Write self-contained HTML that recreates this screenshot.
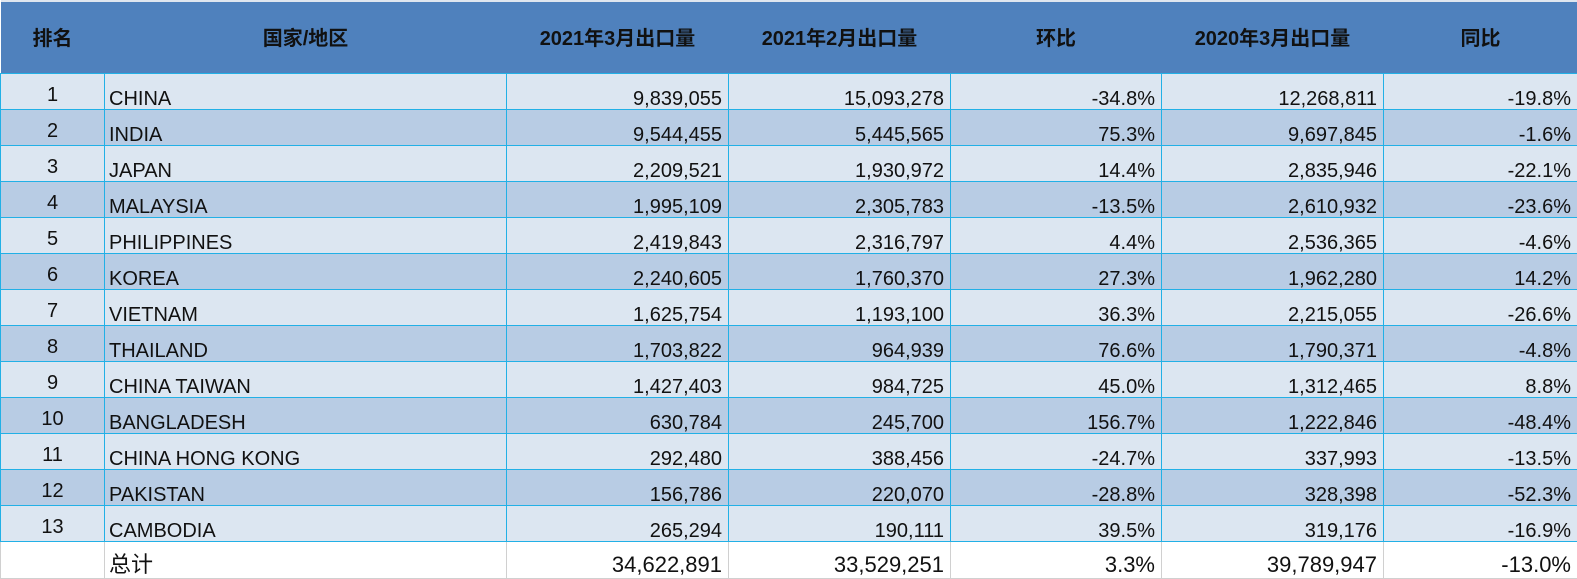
<!DOCTYPE html>
<html><head><meta charset="utf-8"><style>
body{margin:0;width:1577px;height:577px;overflow:hidden;background:#fff;font-family:"Liberation Sans","Noto Sans CJK SC",sans-serif;}
table{border-collapse:collapse;table-layout:fixed;width:1577px;}
td{padding:0 6px;font-size:20px;line-height:20px;color:#111;height:36px;box-sizing:border-box;border:1px solid #22b0e6;text-align:right;vertical-align:bottom;padding-bottom:0;white-space:nowrap;overflow:hidden}
tr.h td{background:#4f81bd;height:72px;border:none;border-top:2px solid #dfe6ef;text-align:center;vertical-align:middle;font-weight:bold;font-size:20px;padding-bottom:0;padding-top:4px}
tr.l td{background:#dce6f1}
tr.d td{background:#b8cce4}
tr td.c{text-align:center;vertical-align:bottom;padding-bottom:4px}
td.n{text-align:left;padding-left:4px}
tr.t td{background:#fff;border:1px solid #d0d0d0;height:37px;font-size:22px;padding-bottom:3px}
</style></head><body>
<table>
<colgroup><col style="width:104px"><col style="width:402px"><col style="width:222px"><col style="width:222px"><col style="width:211px"><col style="width:222px"><col style="width:194px"></colgroup>
<tr class="h"><td>排名</td><td>国家/地区</td><td>2021年3月出口量</td><td>2021年2月出口量</td><td>环比</td><td>2020年3月出口量</td><td>同比</td></tr>
<tr class="l"><td class="c">1</td><td class="n">CHINA</td><td>9,839,055</td><td>15,093,278</td><td>-34.8%</td><td>12,268,811</td><td>-19.8%</td></tr>
<tr class="d"><td class="c">2</td><td class="n">INDIA</td><td>9,544,455</td><td>5,445,565</td><td>75.3%</td><td>9,697,845</td><td>-1.6%</td></tr>
<tr class="l"><td class="c">3</td><td class="n">JAPAN</td><td>2,209,521</td><td>1,930,972</td><td>14.4%</td><td>2,835,946</td><td>-22.1%</td></tr>
<tr class="d"><td class="c">4</td><td class="n">MALAYSIA</td><td>1,995,109</td><td>2,305,783</td><td>-13.5%</td><td>2,610,932</td><td>-23.6%</td></tr>
<tr class="l"><td class="c">5</td><td class="n">PHILIPPINES</td><td>2,419,843</td><td>2,316,797</td><td>4.4%</td><td>2,536,365</td><td>-4.6%</td></tr>
<tr class="d"><td class="c">6</td><td class="n">KOREA</td><td>2,240,605</td><td>1,760,370</td><td>27.3%</td><td>1,962,280</td><td>14.2%</td></tr>
<tr class="l"><td class="c">7</td><td class="n">VIETNAM</td><td>1,625,754</td><td>1,193,100</td><td>36.3%</td><td>2,215,055</td><td>-26.6%</td></tr>
<tr class="d"><td class="c">8</td><td class="n">THAILAND</td><td>1,703,822</td><td>964,939</td><td>76.6%</td><td>1,790,371</td><td>-4.8%</td></tr>
<tr class="l"><td class="c">9</td><td class="n">CHINA TAIWAN</td><td>1,427,403</td><td>984,725</td><td>45.0%</td><td>1,312,465</td><td>8.8%</td></tr>
<tr class="d"><td class="c">10</td><td class="n">BANGLADESH</td><td>630,784</td><td>245,700</td><td>156.7%</td><td>1,222,846</td><td>-48.4%</td></tr>
<tr class="l"><td class="c">11</td><td class="n">CHINA HONG KONG</td><td>292,480</td><td>388,456</td><td>-24.7%</td><td>337,993</td><td>-13.5%</td></tr>
<tr class="d"><td class="c">12</td><td class="n">PAKISTAN</td><td>156,786</td><td>220,070</td><td>-28.8%</td><td>328,398</td><td>-52.3%</td></tr>
<tr class="l"><td class="c">13</td><td class="n">CAMBODIA</td><td>265,294</td><td>190,111</td><td>39.5%</td><td>319,176</td><td>-16.9%</td></tr>
<tr class="t"><td></td><td class="n">总计</td><td>34,622,891</td><td>33,529,251</td><td>3.3%</td><td>39,789,947</td><td>-13.0%</td></tr>
</table>
</body></html>
